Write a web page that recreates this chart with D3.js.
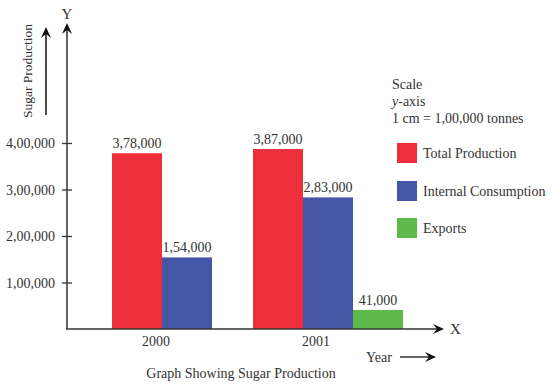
<!DOCTYPE html>
<html><head><meta charset="utf-8">
<script src="https://cdn.jsdelivr.net/npm/d3@7"></script>
<style>body{margin:0;background:#fff}svg{display:block}text{font-family:"Liberation Serif","DejaVu Serif",serif;fill:#333}</style>
</head><body><svg id="c" width="552" height="387"></svg>
<script>
const years = ["2000", "2001"];
const seriesNames = ["Total Production", "Internal Consumption", "Exports"];
const totalProduction = [378000, 387000];
const internalConsumption = [154000, 283000];
const exportsVals = [null, 41000];
const valueLabels = [["3,78,000", "1,54,000", null], ["3,87,000", "2,83,000", "41,000"]];
const yTicks = [100000, 200000, 300000, 400000];
const yTickLabels = ["1,00,000", "2,00,000", "3,00,000", "4,00,000"];
const colors = ["#ec2f3b", "#4456a5", "#5dba4b"];

const FS = 14;
const svg = d3.select("#c");
const y = d3.scaleLinear().domain([0, 400000]).range([329, 143]);
const x0 = d3.scaleBand().domain(years).range([112, 394]).paddingInner(0).paddingOuter(0).align(0);
const x1 = d3.scaleBand().domain(seriesNames).range([0, 150]);
const xLab = d3.scalePoint().domain(years).range([155.5, 315.5]);

const ink = "#333";
const seriesVals = [totalProduction, internalConsumption, exportsVals];
years.forEach((yr, i) => {
  seriesNames.forEach((s, j) => {
    const v = seriesVals[j][i];
    if (v == null) return;
    const bx = x0(yr) + x1(s);
    svg.append("rect").attr("x", bx).attr("y", y(v)).attr("width", x1.bandwidth()).attr("height", y(0) - y(v)).attr("fill", colors[j]);
    svg.append("text").attr("x", bx + x1.bandwidth() / 2).attr("y", y(v) - 5).attr("text-anchor", "middle").attr("font-size", FS).text(valueLabels[i][j]);
  });
});

// y axis
const yAxis = d3.axisLeft(y).tickValues(yTicks).tickFormat((d, i) => yTickLabels[i]).tickSize(0);
const gy = svg.append("g").attr("transform", "translate(67,0)").call(yAxis);
gy.select(".domain").remove();
gy.selectAll(".tick text").attr("x", -12).attr("dy", "0.35em").attr("font-size", FS).attr("font-family", "Liberation Serif").attr("fill", ink);
gy.selectAll(".tick").append("line").attr("x1", -5).attr("x2", 5).attr("stroke", ink).attr("stroke-width", 1.3);

// axis lines
svg.append("line").attr("x1", 67).attr("x2", 67).attr("y1", 329).attr("y2", 26).attr("stroke", ink).attr("stroke-width", 1.5);
svg.append("line").attr("x1", 66).attr("x2", 440).attr("y1", 329).attr("y2", 329).attr("stroke", ink).attr("stroke-width", 1.5);
function arrowHead(tx, ty, dir) {
  let p;
  if (dir === "up") p = [[tx, ty], [tx - 5, ty + 11], [tx, ty + 7], [tx + 5, ty + 11]];
  else p = [[tx, ty], [tx - 11, ty - 5], [tx - 7, ty], [tx - 11, ty + 5]];
  svg.append("path").attr("d", "M" + p.join("L") + "Z").attr("fill", "#111");
}
arrowHead(67, 23, "up");
arrowHead(444, 329, "right");
svg.append("text").attr("x", 67).attr("y", 19).attr("text-anchor", "middle").attr("font-size", 15).text("Y");
svg.append("text").attr("x", 450).attr("y", 334).attr("font-size", 15).text("X");

// x labels
const xAxis = d3.axisBottom(xLab).tickSize(0);
const gx = svg.append("g").attr("transform", "translate(0,329)").call(xAxis);
gx.select(".domain").remove();
gx.selectAll(".tick text").attr("dy", 0).attr("y", 17).attr("font-size", FS).attr("font-family", "Liberation Serif").attr("fill", ink);

// y title
svg.append("text").attr("transform", "translate(32,71) rotate(-90)").attr("text-anchor", "middle").attr("font-size", 13.5).text("Sugar Production");
svg.append("line").attr("x1", 46).attr("x2", 46).attr("y1", 115).attr("y2", 32).attr("stroke", "#111").attr("stroke-width", 1.5);
arrowHead(46, 27, "up");

// year
svg.append("text").attr("x", 366).attr("y", 362).attr("font-size", FS).text("Year");
svg.append("line").attr("x1", 400).attr("x2", 430).attr("y1", 357).attr("y2", 357).attr("stroke", "#111").attr("stroke-width", 1.3);
arrowHead(436, 357, "right");

// title
svg.append("text").attr("x", 241).attr("y", 378).attr("text-anchor", "middle").attr("font-size", FS).text("Graph Showing Sugar Production");

// scale note
svg.append("text").attr("x", 392).attr("y", 89).attr("font-size", FS).text("Scale");
const t2 = svg.append("text").attr("x", 392).attr("y", 106).attr("font-size", FS);
t2.append("tspan").attr("font-style", "italic").text("y");
t2.append("tspan").text("-axis");
svg.append("text").attr("x", 392).attr("y", 123).attr("font-size", FS).text("1 cm = 1,00,000 tonnes");

// legend
const legY = [143, 181, 218];
seriesNames.forEach((s, j) => {
  svg.append("rect").attr("x", 397).attr("y", legY[j]).attr("width", 20).attr("height", 20).attr("fill", colors[j]);
  svg.append("text").attr("x", 423).attr("y", legY[j] + 15).attr("font-size", FS).text(s);
});
</script></body></html>
